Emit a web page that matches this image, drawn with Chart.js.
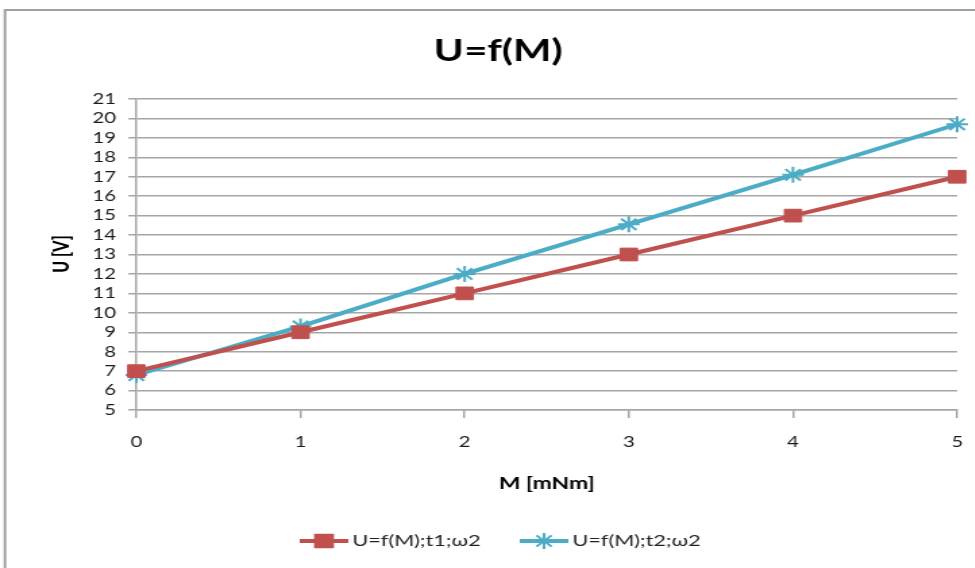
<!DOCTYPE html>
<html><head><meta charset="utf-8">
<script src="https://cdn.jsdelivr.net/npm/chart.js@4/dist/chart.umd.min.js"></script>
<style>html,body{margin:0;padding:0;background:#fff;overflow:hidden}#wrap{width:975px;height:568px;position:relative;overflow:hidden}
#c{position:absolute;left:0;top:0;transform:scaleX(1.35);transform-origin:0 0}</style>
</head><body><div id="wrap"><canvas id="c" width="722" height="568"></canvas></div>
<script>
const categories = [0, 1, 2, 3, 4, 5];
const seriesT1 = [7, 9, 11, 13, 15, 17];
const seriesT2 = [6.8, 9.3, 12, 14.55, 17.1, 19.7];
const seriesNames = ['U=f(M);t1;ω2', 'U=f(M);t2;ω2'];
const titleText = 'U=f(M)';
const xTitle = 'M [mNm]';
const yTitle = 'U [V]';
const RED = '#c0504d', BLUE = '#4bacc6', GRID = '#a6a6a6';
const FONT = 'Lato, "Open Sans", "Liberation Sans", sans-serif';

const decor = {
  id: 'decor',
  beforeDraw(chart) {
    const ctx = chart.ctx;
    ctx.save();
    ctx.strokeStyle = '#a0a0a0'; ctx.lineWidth = 2;
    ctx.beginPath(); ctx.moveTo(3.7, 600); ctx.lineTo(3.7, 10); ctx.lineTo(1000, 10); ctx.stroke();
    ctx.restore();
  },
  afterDraw(chart) {
    const ctx = chart.ctx; const ca = chart.chartArea;
    ctx.save();
    ctx.fillStyle = '#000';
    ctx.textAlign = 'center'; ctx.textBaseline = 'middle';
    ctx.font = 'bold 30px ' + FONT;
    ctx.fillText(titleText, 369, 51);
    ctx.font = 'bold 17px ' + FONT;
    ctx.fillText(xTitle, (ca.left + ca.right) / 2, 484);
    ctx.font = '900 16px ' + FONT;
    ctx.save(); ctx.translate(46, 254); ctx.rotate(-Math.PI / 2);
    ctx.fillText(yTitle, 0, 0); ctx.restore();
    // legend
    const items = [{x: 222, color: RED, style: 'rect', r: 9, name: seriesNames[0]}, {x: 385, color: BLUE, style: 'star', r: 8, name: seriesNames[1]}];
    const y = 541;
    ctx.font = '16px ' + FONT; ctx.textAlign = 'left';
    items.forEach(it => {
      ctx.strokeStyle = it.color; ctx.lineWidth = 4;
      ctx.beginPath(); ctx.moveTo(it.x, y); ctx.lineTo(it.x + 36, y); ctx.stroke();
      ctx.fillStyle = it.color; ctx.lineWidth = 2;
      Chart.helpers.drawPoint(ctx, {pointStyle: it.style, radius: it.r, borderWidth: 2, rotation: 0}, it.x + 18, y);
      ctx.fillStyle = '#222';
      ctx.fillText(it.name, it.x + 39, y);
    });
    ctx.restore();
  }
};

new Chart(document.getElementById('c'), {
  type: 'line',
  data: {
    labels: categories,
    datasets: [
      {label: seriesNames[0], data: categories.map((x, i) => ({x, y: seriesT1[i]})), borderColor: RED, backgroundColor: RED, borderWidth: 4, pointStyle: 'rect', pointRadius: 9, pointBorderWidth: 1, tension: 0, clip: false},
      {label: seriesNames[1], data: categories.map((x, i) => ({x, y: seriesT2[i]})), borderColor: BLUE, backgroundColor: BLUE, borderWidth: 4, pointStyle: 'star', pointRadius: 8, pointBorderWidth: 2, tension: 0, clip: false}
    ]
  },
  options: {
    responsive: false, animation: false, devicePixelRatio: 1,
    layout: {padding: {top: 99, left: 0, right: 13, bottom: 118}},
    plugins: {legend: {display: false}, title: {display: false}, tooltip: {enabled: false}},
    scales: {
      x: {
        type: 'linear', min: 0, max: 5,
        afterFit(s) { s.height = 40; s.paddingRight = 0; s.paddingLeft = 0; },
        grid: {drawOnChartArea: false, drawTicks: true, tickLength: 8, color: GRID, lineWidth: 1.5},
        border: {display: true, color: GRID, width: 1.5},
        ticks: {stepSize: 1, padding: 15, color: '#1a1a1a', font: {family: FONT, size: 15}}
      },
      y: {
        min: 5, max: 21,
        afterFit(s) { s.width = 101; },
        grid: {drawTicks: true, tickLength: 6, color: GRID, lineWidth: 1.5},
        border: {display: true, color: GRID, width: 1.5},
        ticks: {stepSize: 1, autoSkip: false, padding: 9, color: '#1a1a1a', font: {family: FONT, size: 15}}
      }
    }
  },
  plugins: [decor]
});
</script></body></html>
